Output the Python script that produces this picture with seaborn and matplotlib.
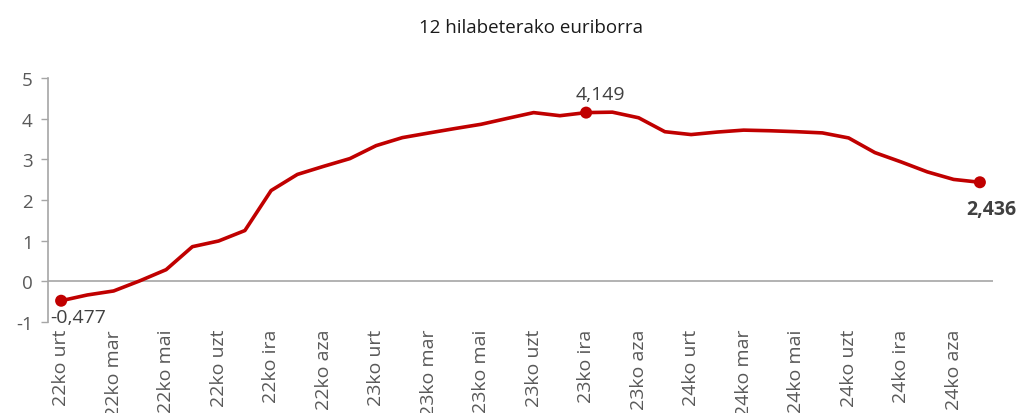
import matplotlib
matplotlib.use("Agg")
import matplotlib.pyplot as plt
import seaborn as sns
import pandas as pd
import numpy as np

months = ["urt", "ots", "mar", "api", "mai", "eka", "uzt", "abu", "ira", "urr", "aza", "abe"]
periods = [f"{yy}ko {m}" for yy in ("22", "23", "24") for m in months]
values = [-0.477, -0.335, -0.237, 0.013, 0.287, 0.852, 0.992, 1.249, 2.233, 2.629, 2.828, 3.018,
          3.337, 3.534, 3.647, 3.757, 3.862, 4.007, 4.149, 4.073, 4.149, 4.160, 4.022, 3.679,
          3.609, 3.671, 3.718, 3.703, 3.680, 3.650, 3.526, 3.166, 2.936, 2.691, 2.506, 2.436]
highlight = [0, 20, 35]
label_text = ["-0,477", "4,149", "2,436"]

sns.set_style("white")
plt.rcParams['font.family'] = ['Open Sans', 'DejaVu Sans']

df = pd.DataFrame({"idx": range(len(values)), "period": periods, "value": values})

fig = plt.figure(figsize=(10.2, 4.14), dpi=100)
ax = fig.add_axes([48/1020, 91/414, (993-48)/1020, (323-79)/414])

red = "#C00000"
ax.axhline(0, color="#A6A6A6", lw=1.2, zorder=1)
sns.lineplot(data=df, x="idx", y="value", ax=ax, color=red, lw=2.6, zorder=3,
             solid_joinstyle="round", solid_capstyle="round")
hdf = df.iloc[highlight]
ax.scatter(hdf["idx"], hdf["value"], s=75, color=red, zorder=4, edgecolors="none")

ax.annotate(label_text[0], (hdf["idx"].iloc[0], hdf["value"].iloc[0]), xytext=(-8, -5),
            textcoords="offset points", ha="left", va="top", fontsize=14, color="#404040")
ax.annotate(label_text[1], (hdf["idx"].iloc[1], hdf["value"].iloc[1]), xytext=(10, 7),
            textcoords="offset points", ha="center", va="bottom", fontsize=14, color="#404040")
ax.annotate(label_text[2], (hdf["idx"].iloc[2], hdf["value"].iloc[2]), xytext=(8, -12),
            textcoords="offset points", ha="center", va="top", fontsize=14, color="#404040",
            fontweight="bold")

ax.set_xlim(-0.5, len(values) - 0.5)
ax.set_ylim(-1, 5)
ax.set_yticks(range(-1, 6))
ax.set_yticklabels([str(v) for v in range(-1, 6)])
ax.set_xticks(df["idx"][::2])
ax.set_xticklabels(df["period"][::2], rotation=90, ha="center", va="top")
ax.tick_params(axis="x", length=0, pad=5, labelsize=14, labelcolor="#595959")
ax.tick_params(axis="y", length=5, width=1, color="#A6A6A6", pad=6, labelsize=13.5, labelcolor="#595959", left=True)
ax.set_xlabel("")
ax.set_ylabel("")
for s in ("top", "right", "bottom"):
    ax.spines[s].set_visible(False)
ax.spines["left"].set_color("#A6A6A6")
ax.spines["left"].set_linewidth(1.2)

fig.text(531/1020, 1 - 28/414, "12 hilabeterako euriborra", ha="center", va="center",
         fontsize=13.5, color="#1a1a1a")

fig.savefig("out.png", dpi=100)
